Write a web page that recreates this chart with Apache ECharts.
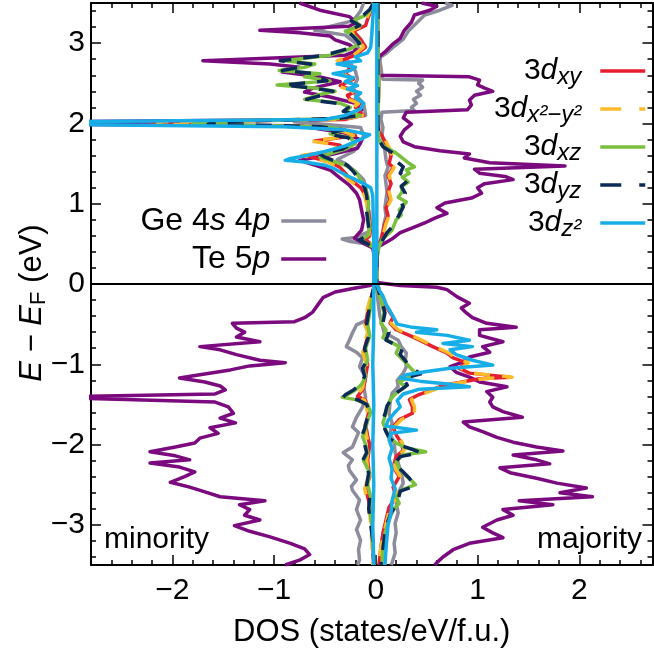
<!DOCTYPE html>
<html><head><meta charset="utf-8">
<script src="https://cdn.jsdelivr.net/npm/echarts@6/dist/echarts.min.js"></script>
<style>html,body{margin:0;padding:0;background:#fff}#c{width:654px;height:653px}</style>
</head><body><div id="c"></div>
<script>
// ---------- tick labels ----------
const xMajorTicks = [-2, -1, 0, 1, 2];
const yMajorTicks = [-3, -2, -1, 0, 1, 2, 3];

// ---------- series: [DOS, E-EF] pairs ----------
const geMin = [[-0.12,3.5],[-0.15,3.40],[-0.22,3.28],[-0.60,3.16],[-0.30,3.10],[-0.20,3.00],[-0.15,2.90],[-0.30,2.80],[-0.25,2.75],[-0.20,2.65],[-0.18,2.55],[-0.22,2.45],[-0.20,2.35],[-0.12,2.25],[-0.10,2.10],[-0.80,2.02],[-0.15,1.95],[-0.12,1.85],[-0.15,1.75],[-0.22,1.65],[-0.30,1.60],[-0.38,1.55],[-0.30,1.50],[-0.20,1.40],[-0.12,1.30],[-0.10,1.20],[-0.08,1.00],[-0.06,0.80],[-0.07,0.65],[-0.20,0.58],[-0.33,0.56],[-0.25,0.53],[-0.10,0.50],[-0.02,0.45],[-0.01,0.30],[-0.01,0.0],
 [-0.03,-0.10],[-0.06,-0.25],[-0.09,-0.45],[-0.19,-0.51],[-0.23,-0.61],[-0.26,-0.70],[-0.29,-0.78],[-0.19,-0.85],[-0.13,-0.92],[-0.16,-1.03],[-0.10,-1.16],[-0.12,-1.28],[-0.10,-1.41],[-0.13,-1.53],[-0.19,-1.66],[-0.23,-1.78],[-0.17,-1.85],[-0.19,-1.91],[-0.23,-2.03],[-0.32,-2.10],[-0.23,-2.19],[-0.27,-2.26],[-0.26,-2.32],[-0.19,-2.44],[-0.24,-2.52],[-0.23,-2.57],[-0.16,-2.69],[-0.19,-2.81],[-0.15,-2.94],[-0.19,-3.06],[-0.15,-3.19],[-0.17,-3.31],[-0.16,-3.44],[-0.18,-3.50]];
const geMaj = [[0.68,3.5],[0.75,3.47],[0.63,3.41],[0.48,3.35],[0.40,3.25],[0.32,3.15],[0.27,3.05],[0.19,2.97],[0.11,2.88],[0.05,2.83],[0.04,2.78],[0.05,2.70],[0.06,2.60],[0.07,2.55],[0.46,2.54],[0.42,2.50],[0.46,2.45],[0.40,2.40],[0.44,2.35],[0.37,2.30],[0.40,2.25],[0.35,2.20],[0.38,2.16],[0.06,2.14],[0.05,2.05],[0.07,1.95],[0.06,1.85],[0.08,1.75],[0.09,1.65],[0.10,1.55],[0.12,1.45],[0.09,1.35],[0.10,1.25],[0.11,1.15],[0.10,1.05],[0.09,0.95],[0.10,0.85],[0.08,0.75],[0.07,0.65],[0.05,0.55],[0.03,0.50],[0.01,0.45],[0.01,0.0],
 [0.02,-0.20],[0.04,-0.40],[0.08,-0.60],[0.22,-0.70],[0.25,-0.78],[0.30,-0.86],[0.29,-0.95],[0.30,-1.03],[0.27,-1.11],[0.21,-1.20],[0.22,-1.28],[0.16,-1.36],[0.14,-1.48],[0.13,-1.61],[0.16,-1.73],[0.14,-1.86],[0.18,-1.98],[0.19,-2.10],[0.22,-2.23],[0.25,-2.35],[0.27,-2.48],[0.22,-2.60],[0.20,-2.73],[0.22,-2.85],[0.19,-2.98],[0.20,-3.10],[0.18,-3.23],[0.19,-3.35],[0.16,-3.47],[0.15,-3.50]];

const teMin = [[-0.75,3.5],[-0.55,3.41],[-0.26,3.33],[-0.19,3.26],[-0.26,3.21],[-1.14,3.16],[-0.75,3.13],[-0.45,3.09],[-0.40,3.04],[-0.26,2.98],[-0.18,2.91],[-0.30,2.85],[-1.70,2.78],[-1.04,2.74],[-0.75,2.70],[-0.92,2.64],[-0.55,2.58],[-0.35,2.52],[-0.62,2.44],[-0.70,2.39],[-0.45,2.33],[-0.20,2.25],[-0.14,2.17],[-0.18,2.10],[-0.45,2.05],[-3.1,2.02],[-3.1,1.99],[-0.75,1.97],[-0.55,1.93],[-0.30,1.88],[-0.14,1.79],[-0.18,1.69],[-0.45,1.61],[-0.75,1.54],[-0.60,1.48],[-0.45,1.42],[-0.35,1.32],[-0.26,1.23],[-0.19,1.13],[-0.16,1.05],[-0.14,0.92],[-0.12,0.80],[-0.14,0.67],[-0.21,0.57],[-0.11,0.50],[-0.03,0.45],[-0.01,0.30],[-0.01,0.05],[-0.02,0.0],
 [-0.06,-0.02],[-0.20,-0.05],[-0.40,-0.10],[-0.52,-0.17],[-0.57,-0.26],[-0.62,-0.35],[-0.70,-0.42],[-0.80,-0.47],[-1.41,-0.49],[-1.37,-0.55],[-1.29,-0.60],[-1.37,-0.66],[-1.14,-0.72],[-1.73,-0.78],[-1.53,-0.82],[-1.37,-0.88],[-1.14,-0.95],[-0.89,-0.98],[-1.24,-1.02],[-1.43,-1.07],[-1.73,-1.13],[-1.93,-1.17],[-1.68,-1.22],[-1.53,-1.27],[-1.48,-1.32],[-1.58,-1.37],[-3.3,-1.41],[-3.3,-1.43],[-1.58,-1.47],[-1.45,-1.53],[-1.40,-1.61],[-1.53,-1.67],[-1.38,-1.73],[-1.63,-1.79],[-1.55,-1.86],[-1.73,-1.92],[-1.78,-1.98],[-1.97,-2.03],[-2.22,-2.09],[-1.97,-2.14],[-1.83,-2.19],[-2.22,-2.23],[-1.93,-2.28],[-1.78,-2.34],[-1.88,-2.40],[-2.02,-2.47],[-1.83,-2.53],[-1.68,-2.59],[-1.53,-2.65],[-1.09,-2.70],[-1.34,-2.75],[-1.24,-2.81],[-1.29,-2.88],[-1.14,-2.94],[-1.39,-3.01],[-1.24,-3.08],[-1.04,-3.15],[-0.84,-3.23],[-0.70,-3.30],[-0.65,-3.37],[-0.75,-3.44],[-0.89,-3.50]];
const teMaj = [[0.45,3.5],[0.60,3.46],[0.53,3.41],[0.38,3.35],[0.35,3.26],[0.28,3.16],[0.24,3.06],[0.16,2.98],[0.09,2.89],[0.03,2.83],[0.02,2.73],[0.02,2.60],[0.92,2.58],[1.02,2.54],[1.00,2.48],[1.07,2.44],[1.15,2.40],[0.97,2.35],[0.92,2.29],[0.94,2.23],[0.90,2.17],[0.30,2.14],[0.27,2.07],[0.35,1.99],[0.28,1.92],[0.24,1.84],[0.27,1.77],[0.38,1.71],[0.63,1.66],[0.92,1.62],[0.87,1.57],[1.12,1.51],[1.86,1.47],[0.97,1.43],[1.02,1.38],[1.27,1.34],[1.35,1.30],[1.07,1.25],[1.00,1.20],[1.04,1.13],[0.94,1.07],[0.68,1.01],[0.60,0.95],[0.70,0.88],[0.58,0.82],[0.48,0.76],[0.36,0.70],[0.24,0.64],[0.17,0.57],[0.09,0.51],[0.02,0.46],[0.01,0.30],[0.01,0.02],
 [0.24,-0.02],[0.60,-0.04],[0.70,-0.07],[0.80,-0.16],[0.92,-0.24],[0.84,-0.30],[0.89,-0.36],[0.95,-0.42],[1.09,-0.49],[1.38,-0.54],[1.02,-0.57],[1.02,-0.64],[1.25,-0.72],[1.05,-0.78],[1.12,-0.85],[0.92,-0.91],[0.86,-0.97],[0.73,-1.03],[0.79,-1.10],[0.92,-1.16],[1.02,-1.22],[1.29,-1.28],[1.09,-1.34],[1.15,-1.41],[1.12,-1.47],[1.15,-1.53],[1.25,-1.59],[1.44,-1.66],[0.86,-1.72],[0.92,-1.78],[1.05,-1.84],[1.19,-1.91],[1.35,-1.97],[1.58,-2.03],[1.84,-2.08],[1.35,-2.13],[1.58,-2.19],[1.71,-2.24],[1.22,-2.29],[1.32,-2.35],[1.58,-2.42],[1.78,-2.48],[2.07,-2.54],[1.81,-2.60],[2.13,-2.65],[1.41,-2.70],[1.74,-2.75],[1.25,-2.81],[1.35,-2.88],[1.19,-2.94],[1.05,-3.03],[1.15,-3.10],[1.25,-3.16],[0.92,-3.23],[0.76,-3.31],[0.66,-3.40],[0.60,-3.47],[0.58,-3.50]];

const dxyMin = [[-0.03,3.5],[-0.05,3.40],[-0.08,3.30],[-0.10,3.22],[-0.22,3.15],[-0.15,3.05],[-0.10,2.95],[-0.20,2.85],[-0.35,2.78],[-0.25,2.70],[-0.30,2.62],[-0.22,2.55],[-0.35,2.47],[-0.20,2.40],[-0.28,2.35],[-0.25,2.30],[-0.15,2.25],[-0.20,2.20],[-0.12,2.10],[-0.30,2.05],[-2.15,2.02],[-2.20,1.99],[-0.60,1.96],[-0.30,1.90],[-0.20,1.85],[-0.60,1.78],[-0.35,1.73],[-0.40,1.66],[-0.70,1.60],[-0.60,1.57],[-0.45,1.52],[-0.35,1.45],[-0.30,1.38],[-0.25,1.30],[-0.15,1.20],[-0.10,1.10],[-0.08,1.00],[-0.07,0.90],[-0.06,0.80],[-0.05,0.70],[-0.06,0.60],[-0.10,0.55],[-0.05,0.50],[-0.01,0.45],[-0.01,0.0],
 [-0.03,-0.10],[-0.05,-0.20],[-0.08,-0.35],[-0.10,-0.50],[-0.07,-0.60],[-0.09,-0.70],[-0.12,-0.85],[-0.08,-1.00],[-0.10,-1.15],[-0.12,-1.30],[-0.18,-1.40],[-0.10,-1.45],[-0.07,-1.60],[-0.10,-1.75],[-0.08,-1.90],[-0.06,-2.00],[-0.08,-2.20],[-0.06,-2.40],[-0.10,-2.55],[-0.07,-2.70],[-0.05,-2.85],[-0.04,-3.00],[-0.03,-3.20],[-0.02,-3.50]];
const dxyMaj = [[0.02,3.5],[0.02,3.0],[0.03,2.5],[0.02,2.1],[0.03,1.90],[0.06,1.85],[0.08,1.80],[0.12,1.70],[0.15,1.60],[0.13,1.50],[0.17,1.45],[0.12,1.35],[0.15,1.25],[0.12,1.15],[0.14,1.05],[0.10,0.95],[0.12,0.85],[0.09,0.75],[0.07,0.65],[0.05,0.55],[0.03,0.50],[0.01,0.45],[0.01,0.0],
 [0.03,-0.05],[0.03,-0.11],[0.10,-0.28],[0.17,-0.41],[0.14,-0.49],[0.20,-0.57],[0.33,-0.64],[0.43,-0.70],[0.56,-0.78],[0.70,-0.86],[0.76,-0.92],[0.89,-0.98],[0.82,-1.05],[0.92,-1.11],[1.32,-1.16],[1.02,-1.18],[0.85,-1.22],[0.67,-1.26],[0.55,-1.32],[0.42,-1.38],[0.33,-1.44],[0.36,-1.53],[0.36,-1.61],[0.23,-1.69],[0.17,-1.78],[0.20,-1.88],[0.25,-1.98],[0.27,-2.07],[0.20,-2.15],[0.17,-2.28],[0.23,-2.40],[0.17,-2.53],[0.20,-2.65],[0.13,-2.78],[0.10,-2.94],[0.07,-3.10],[0.05,-3.28],[0.03,-3.50]];

const dx2Min = [[-0.03,3.5],[-0.06,3.40],[-0.09,3.30],[-0.12,3.22],[-0.25,3.15],[-0.17,3.05],[-0.12,2.95],[-0.22,2.85],[-0.38,2.78],[-0.27,2.70],[-0.32,2.62],[-0.24,2.55],[-0.38,2.47],[-0.22,2.40],[-0.30,2.35],[-0.27,2.30],[-0.17,2.25],[-0.22,2.20],[-0.13,2.10],[-0.32,2.05],[-2.10,2.02],[-2.15,1.99],[-0.62,1.96],[-0.32,1.90],[-0.22,1.85],[-0.63,1.78],[-0.37,1.73],[-0.42,1.66],[-0.73,1.60],[-0.62,1.57],[-0.47,1.52],[-0.37,1.45],[-0.32,1.38],[-0.27,1.30],[-0.16,1.20],[-0.11,1.10],[-0.09,1.00],[-0.08,0.90],[-0.07,0.80],[-0.06,0.70],[-0.07,0.60],[-0.11,0.55],[-0.05,0.50],[-0.01,0.45],[-0.01,0.0],
 [-0.03,-0.10],[-0.06,-0.20],[-0.09,-0.35],[-0.11,-0.50],[-0.08,-0.60],[-0.10,-0.70],[-0.13,-0.85],[-0.09,-1.00],[-0.11,-1.15],[-0.13,-1.30],[-0.20,-1.40],[-0.11,-1.45],[-0.08,-1.60],[-0.11,-1.75],[-0.09,-1.90],[-0.07,-2.00],[-0.09,-2.20],[-0.07,-2.40],[-0.11,-2.55],[-0.08,-2.70],[-0.06,-2.85],[-0.05,-3.00],[-0.04,-3.20],[-0.03,-3.50]];
const dx2Maj = [[0.02,3.5],[0.02,3.0],[0.03,2.5],[0.02,2.1],[0.03,1.90],[0.07,1.85],[0.09,1.80],[0.13,1.70],[0.16,1.60],[0.14,1.50],[0.18,1.45],[0.13,1.35],[0.16,1.25],[0.13,1.15],[0.15,1.05],[0.11,0.95],[0.13,0.85],[0.10,0.75],[0.08,0.65],[0.05,0.55],[0.03,0.50],[0.01,0.45],[0.01,0.0],
 [0.03,-0.05],[0.04,-0.11],[0.11,-0.28],[0.18,-0.41],[0.15,-0.49],[0.22,-0.57],[0.35,-0.64],[0.45,-0.70],[0.58,-0.78],[0.72,-0.86],[0.78,-0.92],[0.91,-0.98],[0.84,-1.05],[0.95,-1.11],[1.34,-1.16],[1.05,-1.18],[0.87,-1.22],[0.69,-1.26],[0.57,-1.32],[0.44,-1.38],[0.35,-1.44],[0.38,-1.53],[0.38,-1.61],[0.25,-1.69],[0.18,-1.78],[0.21,-1.88],[0.26,-1.98],[0.28,-2.07],[0.21,-2.15],[0.18,-2.28],[0.24,-2.40],[0.18,-2.53],[0.21,-2.65],[0.14,-2.78],[0.11,-2.94],[0.08,-3.10],[0.05,-3.28],[0.03,-3.50]];

const dxzMin = [[-0.02,3.5],[-0.05,3.42],[-0.10,3.35],[-0.22,3.28],[-0.15,3.22],[-0.30,3.15],[-0.20,3.08],[-0.15,3.00],[-0.25,2.93],[-0.45,2.85],[-0.90,2.78],[-0.60,2.74],[-0.70,2.70],[-0.95,2.66],[-0.55,2.62],[-0.70,2.58],[-0.45,2.53],[-0.97,2.48],[-0.60,2.44],[-0.40,2.40],[-0.55,2.36],[-0.70,2.30],[-0.35,2.25],[-0.25,2.20],[-0.30,2.15],[-0.15,2.10],[-0.35,2.06],[-1.70,2.02],[-1.80,1.99],[-0.50,1.96],[-0.30,1.92],[-0.45,1.87],[-0.25,1.82],[-0.20,1.75],[-0.30,1.68],[-0.45,1.62],[-0.55,1.58],[-0.45,1.54],[-0.30,1.48],[-0.20,1.40],[-0.15,1.30],[-0.10,1.20],[-0.08,1.10],[-0.07,1.00],[-0.08,0.90],[-0.07,0.80],[-0.06,0.70],[-0.08,0.60],[-0.15,0.55],[-0.08,0.50],[-0.01,0.45],[-0.01,0.0],
 [-0.02,-0.10],[-0.04,-0.20],[-0.06,-0.35],[-0.08,-0.50],[-0.06,-0.65],[-0.10,-0.80],[-0.08,-0.95],[-0.12,-1.05],[-0.10,-1.15],[-0.14,-1.25],[-0.20,-1.32],[-0.28,-1.38],[-0.33,-1.41],[-0.20,-1.44],[-0.08,-1.50],[-0.05,-1.60],[-0.08,-1.70],[-0.10,-1.80],[-0.13,-1.90],[-0.10,-2.00],[-0.08,-2.10],[-0.12,-2.20],[-0.06,-2.35],[-0.08,-2.50],[-0.05,-2.65],[-0.06,-2.80],[-0.04,-3.00],[-0.03,-3.20],[-0.02,-3.50]];
const dxzMaj = [[0.02,3.5],[0.02,3.0],[0.03,2.5],[0.02,2.0],[0.03,1.80],[0.07,1.72],[0.20,1.63],[0.29,1.54],[0.33,1.50],[0.38,1.46],[0.30,1.42],[0.33,1.38],[0.26,1.33],[0.32,1.27],[0.25,1.21],[0.26,1.15],[0.22,1.08],[0.30,1.02],[0.23,0.92],[0.25,0.86],[0.20,0.80],[0.16,0.67],[0.06,0.55],[0.03,0.46],[0.01,0.30],[0.01,0.0],
 [0.02,-0.10],[0.05,-0.20],[0.08,-0.36],[0.05,-0.49],[0.10,-0.57],[0.07,-0.67],[0.23,-0.78],[0.20,-0.86],[0.27,-0.95],[0.33,-1.03],[0.39,-1.11],[0.33,-1.16],[0.23,-1.22],[0.29,-1.28],[0.20,-1.36],[0.14,-1.44],[0.12,-1.53],[0.10,-1.61],[0.07,-1.73],[0.10,-1.82],[0.12,-1.90],[0.20,-1.98],[0.29,-2.04],[0.49,-2.09],[0.26,-2.13],[0.20,-2.22],[0.23,-2.30],[0.29,-2.38],[0.36,-2.46],[0.39,-2.50],[0.26,-2.56],[0.20,-2.65],[0.23,-2.73],[0.17,-2.81],[0.13,-2.94],[0.09,-3.10],[0.07,-3.28],[0.06,-3.50]];

const dyzMin = [[-0.02,3.5],[-0.06,3.42],[-0.12,3.35],[-0.24,3.28],[-0.16,3.22],[-0.28,3.15],[-0.22,3.08],[-0.16,3.00],[-0.28,2.93],[-0.50,2.85],[-0.94,2.78],[-0.64,2.74],[-0.75,2.70],[-0.92,2.66],[-0.60,2.62],[-0.55,2.58],[-0.48,2.53],[-0.90,2.48],[-0.62,2.44],[-0.42,2.40],[-0.50,2.36],[-0.68,2.30],[-0.38,2.25],[-0.27,2.20],[-0.32,2.15],[-0.16,2.10],[-0.38,2.06],[-1.60,2.02],[-1.65,1.99],[-0.55,1.96],[-0.32,1.92],[-0.48,1.87],[-0.27,1.82],[-0.22,1.75],[-0.33,1.68],[-0.55,1.62],[-0.50,1.58],[-0.42,1.54],[-0.28,1.48],[-0.22,1.40],[-0.16,1.30],[-0.11,1.20],[-0.09,1.10],[-0.08,1.00],[-0.09,0.90],[-0.08,0.80],[-0.07,0.70],[-0.09,0.60],[-0.16,0.55],[-0.08,0.50],[-0.01,0.45],[-0.01,0.0],
 [-0.03,-0.10],[-0.05,-0.20],[-0.07,-0.35],[-0.09,-0.50],[-0.07,-0.65],[-0.11,-0.80],[-0.09,-0.95],[-0.13,-1.05],[-0.11,-1.15],[-0.15,-1.25],[-0.22,-1.32],[-0.30,-1.38],[-0.32,-1.41],[-0.18,-1.44],[-0.09,-1.50],[-0.06,-1.60],[-0.09,-1.70],[-0.11,-1.80],[-0.14,-1.90],[-0.11,-2.00],[-0.09,-2.10],[-0.13,-2.20],[-0.07,-2.35],[-0.09,-2.50],[-0.06,-2.65],[-0.07,-2.80],[-0.05,-3.00],[-0.03,-3.20],[-0.02,-3.50]];
const dyzMaj = [[0.02,3.5],[0.02,2.0],[0.03,1.80],[0.07,1.71],[0.17,1.63],[0.19,1.54],[0.27,1.46],[0.24,1.38],[0.33,1.30],[0.25,1.22],[0.29,1.13],[0.24,1.05],[0.27,0.96],[0.22,0.84],[0.16,0.71],[0.11,0.64],[0.05,0.51],[0.01,0.45],[0.01,0.0],
 [0.03,-0.10],[0.06,-0.22],[0.09,-0.36],[0.07,-0.48],[0.13,-0.60],[0.10,-0.70],[0.26,-0.80],[0.24,-0.88],[0.30,-0.97],[0.36,-1.05],[0.44,-1.12],[0.27,-1.18],[0.31,-1.26],[0.22,-1.34],[0.16,-1.42],[0.11,-1.52],[0.09,-1.62],[0.06,-1.72],[0.10,-1.84],[0.14,-1.93],[0.22,-2.00],[0.36,-2.06],[0.44,-2.10],[0.24,-2.15],[0.18,-2.24],[0.26,-2.33],[0.33,-2.42],[0.38,-2.52],[0.24,-2.58],[0.22,-2.68],[0.19,-2.77],[0.14,-2.88],[0.10,-3.02],[0.08,-3.20],[0.05,-3.50]];

const dz2Min = [[-0.02,3.5],[-0.03,3.30],[-0.04,3.10],[-0.05,2.95],[-0.08,2.88],[-0.20,2.83],[-0.15,2.78],[-0.38,2.74],[-0.20,2.70],[-0.25,2.66],[-0.42,2.62],[-0.22,2.57],[-0.30,2.52],[-0.18,2.47],[-0.28,2.43],[-0.15,2.38],[-0.20,2.32],[-0.12,2.25],[-0.15,2.18],[-0.30,2.10],[-0.50,2.05],[-3.2,2.02],[-3.2,1.99],[-0.90,1.96],[-0.30,1.92],[-0.06,1.86],[-0.15,1.80],[-0.30,1.72],[-0.50,1.65],[-0.68,1.60],[-0.85,1.56],[-0.89,1.54],[-0.70,1.52],[-0.50,1.48],[-0.40,1.43],[-0.30,1.36],[-0.20,1.30],[-0.12,1.25],[-0.05,1.20],[-0.03,1.10],[-0.02,0.50],[-0.02,0.0],
 [-0.02,-0.50],[-0.03,-1.00],[-0.02,-1.50],[-0.03,-2.00],[-0.02,-2.50],[-0.03,-3.00],[-0.02,-3.50]];
const dz2Maj = [[0.01,3.5],[0.01,2.5],[0.01,1.5],[0.01,0.5],[0.0,0.0],
 [0.02,-0.03],[0.03,-0.07],[0.07,-0.15],[0.10,-0.25],[0.16,-0.38],[0.21,-0.50],[0.36,-0.54],[0.60,-0.57],[0.40,-0.60],[0.70,-0.64],[0.92,-0.70],[0.66,-0.74],[0.95,-0.78],[0.73,-0.82],[0.79,-0.88],[0.95,-0.95],[1.15,-1.01],[0.73,-1.05],[0.50,-1.09],[0.30,-1.13],[0.24,-1.17],[0.43,-1.21],[0.73,-1.25],[0.92,-1.28],[0.43,-1.31],[0.27,-1.37],[0.21,-1.45],[0.24,-1.53],[0.18,-1.61],[0.12,-1.70],[0.10,-1.77],[0.40,-1.82],[0.15,-1.86],[0.13,-1.94],[0.16,-2.05],[0.13,-2.17],[0.16,-2.30],[0.15,-2.42],[0.19,-2.55],[0.16,-2.70],[0.15,-2.85],[0.12,-3.00],[0.11,-3.15],[0.10,-3.30],[0.09,-3.50]];

// ---------- styling ----------
const FF = "'Liberation Sans', Arial, Helvetica, sans-serif";
const C = {ge:'#8c8c9c', te:'#7a0a7e', xy:'#e61f2f', x2:'#fdbb2c', xz:'#7bbf3f', yz:'#0b2a58', z2:'#17aee8'};
const DASH = [16, 12];
const LEGDASH = [21, 18];

function mk(name, data, color, dash) {
  return {name, type:'line', data, symbol:'none', showSymbol:false, clip:true, animation:false,
    lineStyle:{color, width:3.5, type: dash || 'solid', join:'round'}, itemStyle:{color},
    emphasis:{disabled:true}};
}
const series = [
  mk('Ge', geMin, C.ge), mk('Ge', geMaj, C.ge),
  mk('Te', teMin, C.te), mk('Te', teMaj, C.te),
  mk('dxy', dxyMin, C.xy), mk('dxy', dxyMaj, C.xy),
  mk('dx2', dx2Min, C.x2, DASH), mk('dx2', dx2Maj, C.x2, DASH),
  mk('dxz', dxzMin, C.xz), mk('dxz', dxzMaj, C.xz),
  mk('dyz', dyzMin, C.yz, DASH), mk('dyz', dyzMaj, C.yz, DASH),
  mk('dz2', dz2Min, C.z2), mk('dz2', dz2Maj, C.z2)
];
series[series.length-1].markLine = {silent:true, symbol:['none','none'], animation:false,
  label:{show:false}, lineStyle:{color:'#000', width:2, type:'solid'}, data:[{yAxis:0}]};

const minus = v => String(v).replace('-', '\u2212');
function minors(a, b) { const r=[]; for (let k=Math.round(a*5); k<=Math.round(b*5); k++) r.push(Math.round(k*20)/100); return r; }
const xMinor = minors(-2.8, 2.6), yMinor = minors(-3.4, 3.4);
const AX = {color:'#000', width:2};
const TK = {color:'#000', width:1.5};
const XR = {min:-2.8, max:2.72}, YR = {min:-3.5, max:3.5};

function axis(pos, range, line, ticks, len, labels, extra) {
  return Object.assign({type:'value', position:pos, min:range.min, max:range.max,
    axisLine:{show:line, onZero:false, lineStyle:AX},
    axisTick:{show:true, inside:true, length:len, lineStyle:TK, customValues:ticks},
    axisLabel: labels ? {show:true, customValues:labels, formatter:minus, fontSize:30, color:'#000', fontFamily:FF, margin:(pos==='bottom'?11:6)} : {show:false},
    splitLine:{show:false}, minorTick:{show:false}}, extra || {});
}

const labelMap = {
  Ge:'{n|Ge 4}{i|s}{n| 4}{i|p}', Te:'{n|Te 5}{i|p}',
  dxy:'{n|3}{i|d}{s|xy}', dx2:'{n|3}{i|d}{s|x\u00b2\u2212y\u00b2}', dxz:'{n|3}{i|d}{s|xz}',
  dyz:'{n|3}{i|d}{s|yz}', dz2:'{n|3}{i|d}{s|z\u00b2}'
};
function richOf(sz, sub) {
  return {
    n:{fontSize:sz, fontFamily:FF, color:'#000', lineHeight:36},
    i:{fontSize:sz, fontFamily:FF, fontStyle:'italic', color:'#000', lineHeight:36},
    s:{fontSize:sub, fontFamily:FF, fontStyle:'italic', color:'#000', lineHeight:12, verticalAlign:'bottom'}
  };
}
function legend(names, right, top, gap, pad, dashed, sz) {
  return {show:true, orient:'vertical', align:'right', right, top, padding:0, itemGap:gap,
    itemWidth:45, itemHeight:4, selectedMode:false,
    itemStyle:{opacity:0, borderWidth:0},
    lineStyle:{width:3.5},
    data: names.map(n => dashed.indexOf(n) >= 0 ? {name:n, lineStyle:{type:LEGDASH, width:3.5}} : {name:n}),
    formatter: n => labelMap[n],
    textStyle:{fontSize:sz, fontFamily:FF, color:'#000', padding:[0,pad,0,0], rich:richOf(sz, 24)}};
}

const chart = echarts.init(document.getElementById('c'), null, {renderer:'canvas'});
chart.setOption({
  animation:false, backgroundColor:'#fff',
  grid:{left:91, right:1.5, top:3, bottom:88, containLabel:false, outerBoundsMode:'none'},
  xAxis:[
    axis('bottom', XR, true, xMinor, 5, xMajorTicks, {name:'DOS (states/eV/f.u.)', nameLocation:'middle', nameGap:52, nameMoveOverlap:false,
      nameTextStyle:{fontSize:31, fontFamily:FF, color:'#000'}}),
    axis('bottom', XR, false, xMajorTicks, 10, null),
    axis('top', XR, true, xMinor, 5, null),
    axis('top', XR, false, xMajorTicks, 10, null)
  ],
  yAxis:[
    axis('left', YR, true, yMinor, 5, yMajorTicks, {name:'{i|E}{n| \u2212 }{i|E}{f|F}{n| (eV)}', nameLocation:'middle', nameGap:41, nameMoveOverlap:false,
      nameTextStyle:{fontSize:31, fontFamily:FF, color:'#000', padding:[0,38,0,0], rich:{
        n:{fontSize:31, fontFamily:FF, color:'#000', lineHeight:36},
        i:{fontSize:31, fontFamily:FF, fontStyle:'italic', color:'#000', lineHeight:36},
        f:{fontSize:22, fontFamily:FF, color:'#000', lineHeight:14, verticalAlign:'bottom'}}}}),
    axis('left', YR, false, yMajorTicks, 10, null),
    axis('right', YR, true, yMinor, 5, null),
    axis('right', YR, false, yMajorTicks, 10, null)
  ],
  legend:[
    legend(['Ge','Te'], 326, 205, 6, 6, [], 32),
    legend(['dxy','dx2','dxz','dyz','dz2'], 7, 56, 5, 14, ['dx2','dyz'], 30)
  ],
  graphic:[
    {type:'text', left:104, top:525, z:100, style:{text:'minority', font:'30px '+FF, fill:'#000'}},
    {type:'text', right:12, top:525, z:100, style:{text:'majority', font:'30px '+FF, fill:'#000'}}
  ],
  series
});
</script></body></html>
